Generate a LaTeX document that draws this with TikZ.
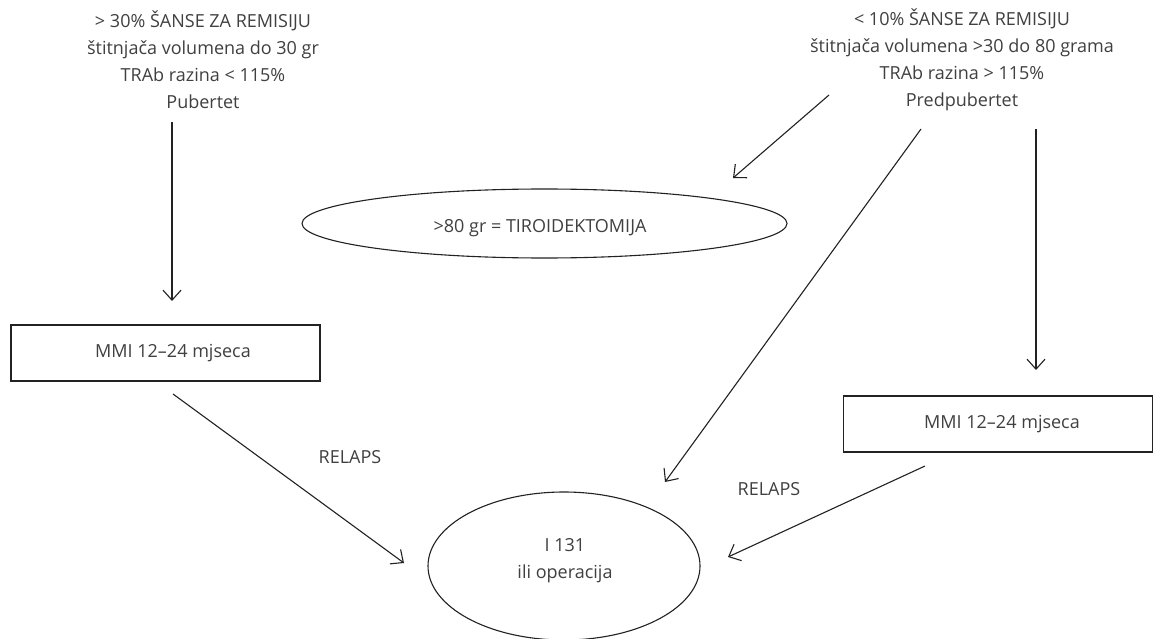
\documentclass[tikz,border=0pt]{standalone}
\usepackage{fontspec}
\setmainfont{Open Sans}
\usetikzlibrary{arrows.meta,shapes.geometric}
\definecolor{txt}{HTML}{404040}
\definecolor{ln}{HTML}{222222}
\tikzset{
  lbl/.style={text=txt,font=\fontsize{18}{27}\selectfont,align=center,inner sep=0pt},
  boxnode/.style={draw=ln,line width=1.1pt,minimum width=309pt,minimum height=56pt,inner sep=0pt,text=txt,font=\fontsize{18}{27}\selectfont},
  ell/.style={draw=ln,line width=1.1pt,ellipse,inner sep=0pt},
  arr/.style={draw=ln,line width=1.1pt,-{Straight Barb[length=10pt,width=18pt,line width=1.1pt]}}
}
\begin{document}
\begin{tikzpicture}[x=1pt,y=-1pt]
\useasboundingbox (0,0) rectangle (1153,639);
\fill[white] (0,0) rectangle (1153,639);
% text blocks
\node[lbl] (L) at (203,60) {> 30\% ŠANSE ZA REMISIJU\\štitnjača volumena do 30 gr\\TRAb razina < 115\%\\Pubertet};
\node[lbl] (R) at (962,60) {< 10\% ŠANSE ZA REMISIJU\\štitnjača volumena >30 do 80 grama\\TRAb razina > 115\%\\Predpubertet};
% boxes
\node[boxnode] (B1) at (165.5,353) {\hspace*{15pt}MMI 12–24 mjseca};
\node[boxnode] (B2) at (998,424) {\hspace*{8pt}MMI 12–24 mjseca};
% ellipses
\node[ell,minimum width=485pt,minimum height=69pt] (E1) at (544.5,223.5) {};
\node[lbl] (E1t) at (540,228) {>80 gr = TIROIDEKTOMIJA};
\node[ell,minimum width=272pt,minimum height=148pt] (E2) at (564,566) {};
\node[lbl] (E2t) at (565,561) {I 131\\ili operacija};
% relaps labels
\node[lbl] (RL1) at (350,457) {RELAPS};
\node[lbl] (RL2) at (769,489) {RELAPS};
% coordinates
\coordinate (a1s) at (172,122);
\coordinate (a1e) at (172,301);
\coordinate (a2s) at (173,394);
\coordinate (a2e) at (404,563);
\coordinate (a3s) at (829,95);
\coordinate (a3e) at (733,178);
\coordinate (a4s) at (921,129);
\coordinate (a4e) at (665,482);
\coordinate (a5s) at (1036,129);
\coordinate (a5e) at (1036,370);
\coordinate (a6s) at (925,466);
\coordinate (a6e) at (728,557);
% arrows
\draw[arr] (a1s) -- (a1e);
\draw[arr] (a2s) -- (a2e);
\draw[arr] (a3s) -- (a3e);
\draw[arr] (a4s) -- (a4e);
\draw[arr] (a5s) -- (a5e);
\draw[arr] (a6s) -- (a6e);
\end{tikzpicture}
\end{document}
